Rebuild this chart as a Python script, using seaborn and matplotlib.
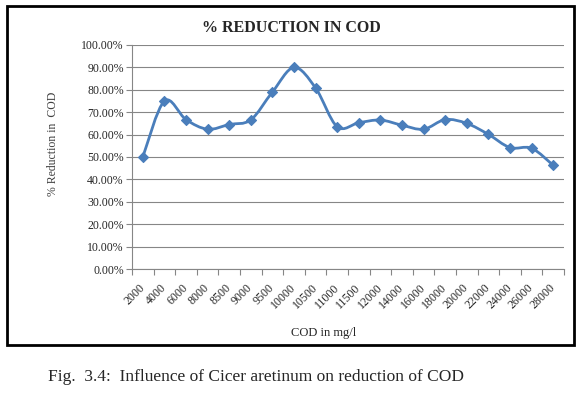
import numpy as np
import matplotlib
matplotlib.use('Agg')
import matplotlib.pyplot as plt
from matplotlib.path import Path
from matplotlib.patches import PathPatch, Rectangle
from matplotlib.ticker import FixedLocator, FuncFormatter
import seaborn as sns
import pandas as pd

# COD concentrations (mg/l) and % reduction
cod_levels = ['2000', '4000', '6000', '8000', '8500', '9000', '9500', '10000', '10500', '11000',
              '11500', '12000', '14000', '16000', '18000', '20000', '22000', '24000', '26000', '28000']
reduction = [50.0, 75.0, 66.7, 62.4, 64.5, 66.6, 79.0, 90.0, 80.8, 63.5,
             65.3, 66.5, 64.2, 62.4, 66.7, 65.0, 60.1, 54.2, 53.9, 46.3]

blue = '#4A7EBB'
grey = '#868686'

sns.set_style('white')
plt.rcParams['font.family'] = ['Liberation Serif', 'DejaVu Serif']

df = pd.DataFrame({'pos': np.arange(len(cod_levels)), 'reduction': reduction, 'cod': cod_levels})

fig = plt.figure(figsize=(5.81, 3.95), dpi=100)
W, H = 581, 395
ax = fig.add_axes([132 / W, 1 - 269 / H, (564 - 132) / W, (269 - 45) / H])

# smoothed line like excel: catmull-rom bezier through the data points
pts = df[['pos', 'reduction']].to_numpy(dtype=float)
ext = np.vstack([pts[0], pts, pts[-1]])
verts = [tuple(pts[0])]
codes = [Path.MOVETO]
for i in range(len(pts) - 1):
    p0, p1, p2, p3 = ext[i], ext[i + 1], ext[i + 2], ext[i + 3]
    c1 = p1 + (p2 - p0) / 6
    c2 = p2 - (p3 - p1) / 6
    verts += [tuple(c1), tuple(c2), tuple(p2)]
    codes += [Path.CURVE4] * 3
ax.add_patch(PathPatch(Path(verts, codes), facecolor='none', edgecolor=blue, lw=2.0,
                       capstyle='round', joinstyle='round', zorder=3))

sns.scatterplot(data=df, x='pos', y='reduction', marker='D', s=26, color=blue,
                edgecolor=blue, linewidth=0.8, zorder=4, ax=ax, legend=False)

ax.set_xlim(-0.5, len(cod_levels) - 0.5)
ax.set_ylim(0, 100)

# y axis
ax.yaxis.set_major_locator(FixedLocator(np.arange(0, 101, 10)))
ax.yaxis.set_major_formatter(FuncFormatter(lambda v, p: f'{v:.2f}%'))
ax.grid(axis='y', color=grey, lw=0.8)
ax.set_axisbelow(True)

# x axis: tick marks between categories, labels at centers
ax.xaxis.set_major_locator(FixedLocator(np.arange(-0.5, len(cod_levels), 1.0)))
ax.xaxis.set_major_formatter(FuncFormatter(lambda v, p: ''))
ax.xaxis.set_minor_locator(FixedLocator(df['pos'].to_numpy()))
ax.xaxis.set_minor_formatter(FuncFormatter(lambda v, p: cod_levels[int(round(v))]))
ax.tick_params(axis='x', which='major', direction='out', length=4, width=0.8, color=grey, bottom=True)
ax.tick_params(axis='x', which='minor', length=0, pad=12, labelsize=8.5)
ax.tick_params(axis='y', direction='out', length=4, width=0.8, color=grey, left=True, labelsize=8.5, pad=2)
for lab in ax.xaxis.get_minorticklabels():
    lab.set_rotation(45)
    lab.set_ha('right')
    lab.set_va('center')
    lab.set_rotation_mode('anchor')

for s in ['top', 'right']:
    ax.spines[s].set_visible(False)
for s in ['left', 'bottom']:
    ax.spines[s].set_color(grey)
    ax.spines[s].set_linewidth(0.8)

ax.set_xlabel('')
ax.set_ylabel('% Reduction in  COD', fontsize=8.5, color='#404040')
ax.yaxis.set_label_coords(-0.168, 0.56)

fig.text(324 / W, 1 - 333 / H, 'COD in mg/l', ha='center', va='center', fontsize=9)
fig.text(291 / W, 1 - 28 / H, '% REDUCTION IN COD', ha='center', va='center',
         fontsize=11.5, fontweight='bold')
fig.text(48 / W, 1 - 377 / H, 'Fig.  3.4:  Influence of Cicer aretinum on reduction of COD',
         ha='left', va='center', fontsize=12.5)

# chart border
fig.patches.append(Rectangle((7 / W, 1 - 345 / H), 567 / W, 339 / H, transform=fig.transFigure,
                             fill=False, edgecolor='black', lw=2.0))

fig.savefig('out.png', dpi=100)
